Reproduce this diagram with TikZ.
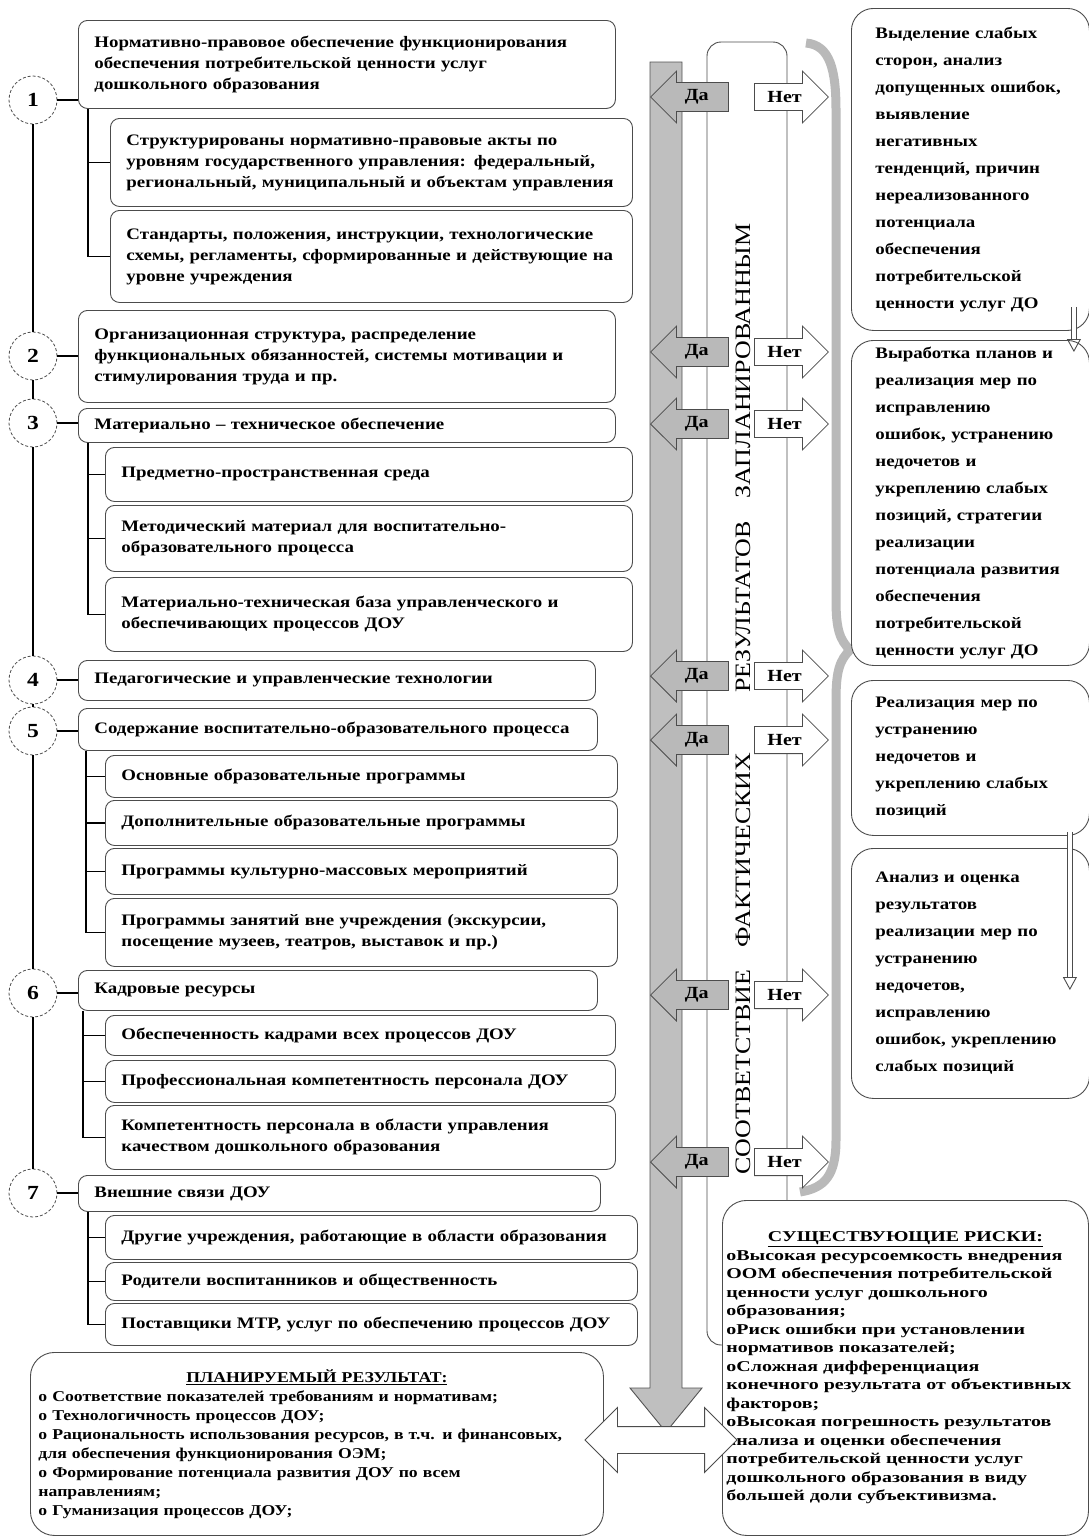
\documentclass[tikz,border=0pt]{standalone}
\usepackage{fontspec}
\setmainfont{Liberation Serif}[FakeStretch=1.18]
\usetikzlibrary{arrows.meta, positioning, shapes.arrows}

\tikzset{
  box/.style={draw=gray!60!black, line width=0.9pt, rounded corners=9pt, fill=white, anchor=north west,
    align=left, inner xsep=16pt, inner ysep=3pt, font=\bfseries\fontsize{16}{21}\selectfont},
  num/.style={circle, draw=gray!60!black, line width=0.8pt, densely dashed, fill=white, minimum size=48pt,
    inner sep=0pt, font=\bfseries\fontsize{20}{20}\selectfont},
  trunk/.style={line width=2.2pt},
  branch/.style={line width=1.8pt},
  sidebox/.style={draw=gray!60!black, line width=0.9pt, rounded corners=22pt, fill=white, anchor=north west,
    align=left, text width=190pt, inner xsep=24pt, font=\bfseries\fontsize{16}{27}\selectfont},
  daarrow/.style={single arrow, shape border rotate=180, draw=gray!60!black, line width=0.8pt, fill=gray!55,
    anchor=tip, minimum height=78pt, minimum width=52pt, single arrow head extend=11pt,
    inner ysep=6pt, font=\bfseries\fontsize{17}{17}\selectfont},
  netarrow/.style={single arrow, draw=gray!60!black, line width=0.8pt, fill=white, anchor=tail,
    minimum height=74pt, minimum width=52pt, single arrow head extend=11pt,
    inner ysep=6pt, font=\bfseries\fontsize{17}{17}\selectfont},
  vword/.style={rotate=90, font=\fontsize{22}{22}\selectfont},
  tailbox/.style={draw=gray!60!black, line width=0.9pt, rounded corners=24pt, fill=white, anchor=north west,
    align=left, font=\bfseries\fontsize{15}{18.5}\selectfont},
  hollow/.style={gray!60!black, line width=0.9pt, double, double distance=4pt,
    -{Triangle[open, width=14pt, length=13pt]}},
}

\begin{document}
\begin{tikzpicture}[x=1pt, y=-1pt]
  \useasboundingbox (0,0) rectangle (1088,1540);

  % central column
  \draw[gray!60!black, line width=0.9pt, rounded corners=14pt] (707,42) rectangle (787,1345);
  \filldraw[fill=gray!50, draw=gray!65!black, line width=0.9pt] (650,62) -- (682,62) -- (682,1388)
    -- (702,1388) -- (666,1432) -- (630,1388) -- (650,1388) -- cycle;
  \draw[gray!55, line width=9pt] (806,43) .. controls (830,45) and (836,70) .. (836,110)
    -- (836,600) .. controls (836,630) and (840,640) .. (850,650)
    .. controls (840,660) and (836,670) .. (836,700)
    -- (836,1140) .. controls (836,1175) and (825,1188) .. (800,1192);

  \node[vword] (w1) at (743,1072) {СООТВЕТСТВИЕ};
  \node[vword] (w2) at (743,850) {ФАКТИЧЕСКИХ};
  \node[vword] (w3) at (743,607) {РЕЗУЛЬТАТОВ};
  \node[vword] (w4) at (743,361) {ЗАПЛАНИРОВАННЫМ};

  \foreach \y [count=\i] in {97,352,424,676,740,995,1162} {
    \node[daarrow] (da\i) at (650,\y) {Да};
    \node[netarrow] (net\i) at (754,\y) {Нет};
  }

  % numbered blocks
  \node[num] (c1) at (33,100) {1};
  \node[num] (c2) at (33,356) {2};
  \node[num] (c3) at (33,423) {3};
  \node[num] (c4) at (33,680) {4};
  \node[num] (c5) at (33,731) {5};
  \node[num] (c6) at (33,993) {6};
  \node[num] (c7) at (33,1193) {7};
  \foreach \a/\b in {c1/c2, c2/c3, c3/c4, c4/c5, c5/c6, c6/c7}
    \draw[trunk] (\a.south) -- (\b.north);

  \node[box, text width=505pt, minimum height=88pt] (b1) at (78,20)
    {Нормативно-правовое обеспечение функционирования\\
     обеспечения потребительской ценности услуг\\
     дошкольного образования};
  \node[box, text width=490pt, minimum height=88pt] (s1a) at (110,118)
    {Структурированы нормативно-правовые акты по\\
     уровням государственного управления: федеральный,\\
     региональный, муниципальный и объектам управления};
  \node[box, text width=490pt, minimum height=92pt] (s1b) at (110,210)
    {Стандарты, положения, инструкции, технологические\\
     схемы, регламенты, сформированные и действующие на\\
     уровне учреждения};

  \node[box, text width=505pt, minimum height=92pt] (b2) at (78,310)
    {Организационная структура, распределение\\
     функциональных обязанностей, системы мотивации и\\
     стимулирования труда и пр.};

  \node[box, text width=505pt, minimum height=34pt] (b3) at (78,408)
    {Материально -- техническое обеспечение};
  \node[box, text width=495pt, minimum height=54pt] (s3a) at (105,447)
    {Предметно-пространственная среда};
  \node[box, text width=495pt, minimum height=66pt] (s3b) at (105,505)
    {Методический материал для воспитательно-\\
     образовательного процесса};
  \node[box, text width=495pt, minimum height=74pt] (s3c) at (105,577)
    {Материально-техническая база управленческого и\\
     обеспечивающих процессов ДОУ};

  \node[box, text width=485pt, minimum height=40pt] (b4) at (78,660)
    {Педагогические и управленческие технологии};

  \node[box, text width=487pt, minimum height=42pt] (b5) at (78,708)
    {Содержание воспитательно-образовательного процесса};
  \node[box, text width=480pt, minimum height=42pt] (s5a) at (105,755)
    {Основные образовательные программы};
  \node[box, text width=480pt, minimum height=45pt] (s5b) at (105,800)
    {Дополнительные образовательные программы};
  \node[box, text width=480pt, minimum height=46pt] (s5c) at (105,848)
    {Программы культурно-массовых мероприятий};
  \node[box, text width=480pt, minimum height=68pt] (s5d) at (105,898)
    {Программы занятий вне учреждения (экскурсии,\\
     посещение музеев, театров, выставок и пр.)};

  \node[box, text width=487pt, minimum height=40pt] (b6) at (78,970)
    {Кадровые ресурсы};
  \node[box, text width=478pt, minimum height=40pt] (s6a) at (105,1015)
    {Обеспеченность кадрами всех процессов ДОУ};
  \node[box, text width=478pt, minimum height=42pt] (s6b) at (105,1060)
    {Профессиональная компетентность персонала ДОУ};
  \node[box, text width=478pt, minimum height=64pt] (s6c) at (105,1105)
    {Компетентность персонала в области управления\\
     качеством дошкольного образования};

  \node[box, text width=490pt, minimum height=36pt] (b7) at (78,1175)
    {Внешние связи ДОУ};
  \node[box, text width=500pt, minimum height=44pt] (s7a) at (105,1215)
    {Другие учреждения, работающие в области образования};
  \node[box, text width=500pt, minimum height=38pt] (s7b) at (105,1262)
    {Родители воспитанников и общественность};
  \node[box, text width=500pt, minimum height=42pt] (s7c) at (105,1303)
    {Поставщики МТР, услуг по обеспечению процессов ДОУ};

  % ticks and branches
  \foreach \i in {1,...,7}
    \draw[branch] (c\i.east) -- (c\i.east -| b\i.west);
  \coordinate (k1) at ([xshift=10pt]b1.south west);
  \coordinate (k3) at ([xshift=10pt]b3.south west);
  \coordinate (k5) at ([xshift=8pt]b5.south west);
  \coordinate (k6) at ([xshift=5pt]b6.south west);
  \coordinate (k7) at ([xshift=10pt]b7.south west);
  \foreach \k/\s in {k1/s1a, k1/s1b, k3/s3a, k3/s3b, k3/s3c, k5/s5a, k5/s5b, k5/s5c, k5/s5d,
                     k6/s6a, k6/s6b, k6/s6c, k7/s7a, k7/s7b, k7/s7c}
    \draw[branch] (\k) |- (\s.west);

  % right column
  \node[sidebox, minimum height=322pt] (rA) at (851,8)
    {Выделение слабых\\ сторон, анализ\\ допущенных ошибок,\\ выявление\\ негативных\\
     тенденций, причин\\ нереализованного\\ потенциала\\ обеспечения\\
     потребительской\\ ценности услуг ДО};
  \node[sidebox, minimum height=325pt] (rB) at (851,340)
    {Выработка планов и\\ реализация мер по\\ исправлению\\ ошибок, устранению\\
     недочетов и\\ укреплению слабых\\ позиций, стратегии\\ реализации\\
     потенциала развития\\ обеспечения\\ потребительской\\ ценности услуг ДО};
  \node[sidebox, minimum height=155pt] (rC) at (851,680)
    {Реализация мер по\\ устранению\\ недочетов и\\ укреплению слабых\\ позиций};
  \node[sidebox, minimum height=250pt] (rD) at (851,848)
    {Анализ и оценка\\ результатов\\ реализации мер по\\ устранению\\ недочетов,\\
     исправлению\\ ошибок, укреплению\\ слабых позиций};
  \draw[hollow] ([xshift=-16pt, yshift=24pt]rA.south east) -- ([xshift=-16pt, yshift=-12pt]rB.north east);
  \draw[hollow] ([xshift=-20pt, yshift=4pt]rC.south east) -- ([xshift=-20pt, yshift=-142pt]rD.north east);

  % results and risks
  \node[tailbox, text width=557pt, inner xsep=8pt, minimum height=183pt,
        font=\bfseries\fontsize{15}{19}\selectfont] (plan) at (30,1352)
    {\centering\underline{ПЛАНИРУЕМЫЙ РЕЗУЛЬТАТ:}\par\raggedright
     o Соответствие показателей требованиям и нормативам;\\
     o Технологичность процессов ДОУ;\\
     o Рациональность использования ресурсов, в т.ч. и финансовых,\\
     для обеспечения функционирования ОЭМ;\\
     o Формирование потенциала развития ДОУ по всем\\
     направлениям;\\
     o Гуманизация процессов ДОУ;};
  \node[tailbox, text width=358pt, inner xsep=4pt, minimum height=335pt,
        font=\bfseries\fontsize{15}{18.5}\selectfont\addfontfeature{FakeStretch=1.33}] (risk) at (722,1200)
    {\centering\underline{СУЩЕСТВУЮЩИЕ РИСКИ:}\par\raggedright
     oВысокая ресурсоемкость внедрения\\
     ООМ обеспечения потребительской\\
     ценности услуг дошкольного\\
     образования;\\
     oРиск ошибки при установлении\\
     нормативов показателей;\\
     oСложная дифференциация\\
     конечного результата от объективных\\
     факторов;\\
     oВысокая погрешность результатов\\
     анализа и оценки обеспечения\\
     потребительской ценности услуг\\
     дошкольного образования в виду\\
     большей доли субъективизма.};
  \node[double arrow, draw=gray!60!black, line width=0.9pt, fill=white, minimum height=152pt,
        minimum width=64pt, double arrow head extend=19pt, inner sep=13pt] (link) at (661,1440) {};
\end{tikzpicture}
\end{document}
